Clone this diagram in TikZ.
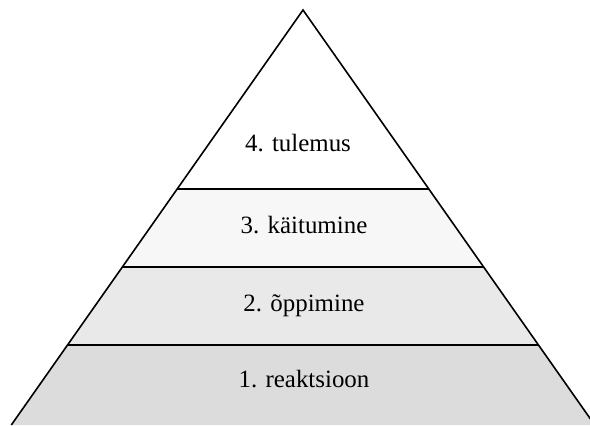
\documentclass[tikz,border=0pt]{standalone}
\usepackage{fontspec}
\setmainfont{Liberation Serif}
\usepackage{xcolor}
\usetikzlibrary{positioning}

\definecolor{levelone}{HTML}{DCDCDC}
\definecolor{leveltwo}{HTML}{E9E9E9}
\definecolor{levelthree}{HTML}{F7F7F7}

\begin{document}
\begin{tikzpicture}[
    x=1bp, y=1bp,
    edge/.style={draw=black, line width=1.6bp, line join=miter},
    level/.style={font=\fontsize{25}{30}\selectfont, anchor=base, inner sep=0pt},
]
    \useasboundingbox (0,0) rectangle (590,425);
    % corners of the pyramid and its levels
    \coordinate (top) at (303,415);
    \coordinate (bl) at (11.3,0);   \coordinate (br) at (594.7,0);
    \coordinate (l1) at (67.5,80);  \coordinate (r1) at (538.5,80);
    \coordinate (l2) at (122.3,158); \coordinate (r2) at (483.7,158);
    \coordinate (l3) at (177.2,236); \coordinate (r3) at (428.8,236);

    \fill[levelone] (bl) -- (br) -- (r1) -- (l1) -- cycle;
    \fill[leveltwo] (l1) -- (r1) -- (r2) -- (l2) -- cycle;
    \fill[levelthree] (l2) -- (r2) -- (r3) -- (l3) -- cycle;

    \draw[edge] (bl) -- (top) -- (br);
    \draw[edge] (l1) -- (r1);
    \draw[edge] (l2) -- (r2);
    \draw[edge] (l3) -- (r3);

    \node[level] (lev4) at (298,274) {4. tulemus};
    \node[level] (lev3) at (304,192) {3. käitumine};
    \node[level] (lev2) at (304,114) {2. õppimine};
    \node[level] (lev1) at (304,38) {1. reaktsioon};
\end{tikzpicture}
\end{document}
